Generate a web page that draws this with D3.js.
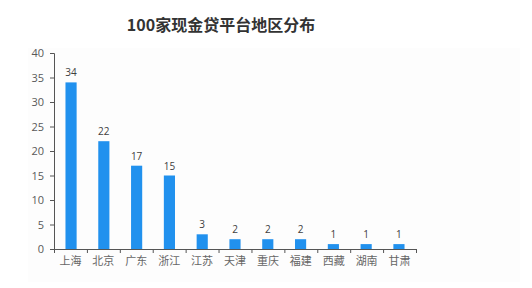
<!DOCTYPE html>
<html><head><meta charset="utf-8">
<script src="https://cdn.jsdelivr.net/npm/d3@7"></script>
<style>body{margin:0;background:#fff;}svg{display:block;font-family:"Microsoft YaHei","Noto Sans CJK SC",sans-serif;}</style>
</head><body><svg id="c" width="532" height="288"></svg>
<script>
const title = "100家现金贷平台地区分布";
const categories = ["上海","北京","广东","浙江","江苏","天津","重庆","福建","西藏","湖南","甘肃"];
const values = [34,22,17,15,3,2,2,2,1,1,1];
const yTicks = [0,5,10,15,20,25,30,35,40];

const svg = d3.select("#c");
const m = {l:54, r:116, t:53, b:39};
const W = 532, H = 288;
svg.append("rect").attr("x",28).attr("y",48).attr("width",492).attr("height",234).attr("fill","#fdfdfd");
const x = d3.scaleBand().domain(categories).range([m.l, W - m.r]).paddingInner(0.66).paddingOuter(0.35);
const y = d3.scaleLinear().domain([0,40]).range([H - m.b, m.t]);

svg.append("text").attr("x",221).attr("y",31).attr("text-anchor","middle")
  .attr("font-size",16).attr("font-weight","bold").attr("fill","#333").text(title);

// y axis
const ya = svg.append("g").attr("transform",`translate(${m.l},0)`)
  .call(d3.axisLeft(y).tickValues(yTicks).tickSize(4).tickPadding(6));
ya.select(".domain").attr("stroke","#555");
ya.selectAll(".tick line").attr("stroke","#555");
ya.selectAll("text").attr("fill","#595959").attr("font-size",11).attr("font-family","'Open Sans',sans-serif");

// bars
svg.selectAll("rect.bar").data(values).enter().append("rect").attr("class","bar")
  .attr("x",(d,i)=>x(categories[i]))
  .attr("width",x.bandwidth())
  .attr("y",d=>y(d))
  .attr("height",d=>y(0)-y(d))
  .attr("fill","#2191ee");

svg.selectAll("text.val").data(values).enter().append("text").attr("class","val")
  .attr("x",(d,i)=>x(categories[i])+x.bandwidth()/2)
  .attr("y",d=>y(d)-6)
  .attr("text-anchor","middle").attr("font-size",10).attr("fill","#404040")
  .attr("font-family","'Open Sans',sans-serif")
  .text(d=>d);

// x axis with ticks at band boundaries
const xb = d3.scaleLinear().domain([0,categories.length]).range([m.l, W - m.r]);
const xa = svg.append("g").attr("transform",`translate(0,${y(0)})`)
  .call(d3.axisBottom(xb).tickValues(d3.range(categories.length+1)).tickSize(4).tickFormat(""));
xa.select(".domain").attr("stroke","#555");
xa.selectAll(".tick line").attr("stroke","#555");

svg.selectAll("text.cat").data(categories).enter().append("text").attr("class","cat")
  .attr("x",(d,i)=>xb(i+0.5))
  .attr("y",y(0)+16)
  .attr("text-anchor","middle").attr("font-size",11).attr("fill","#666")
  .text(d=>d);
</script></body></html>
